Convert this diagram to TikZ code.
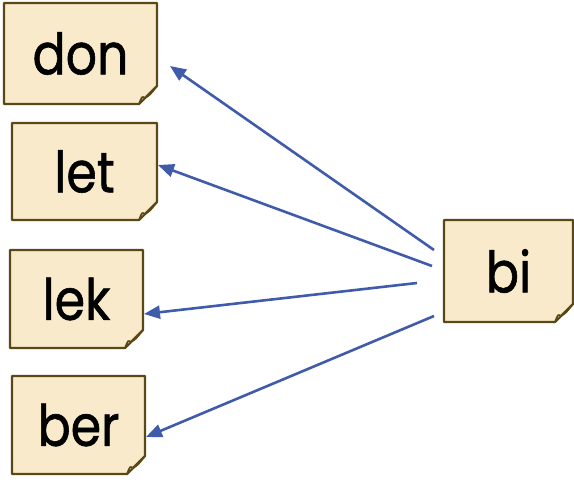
\documentclass[tikz,border=0pt]{standalone}
\usepackage{fontspec}
\newfontfamily\notefont{Poppins}[FakeStretch=0.86, BoldFont={Poppins}, BoldFeatures={FakeBold=1.0}]
\usetikzlibrary{arrows.meta}
\definecolor{notefill}{HTML}{F8EACA}
\definecolor{notedraw}{HTML}{5A4817}
\definecolor{foldfill}{HTML}{CDBFA0}
\definecolor{arrowblue}{HTML}{3F5BA9}
\tikzset{
  notebox/.style={inner sep=0pt, font=\notefont\bfseries\fontsize{57}{57}\selectfont},
  notepath/.style={fill=notefill, draw=notedraw, line width=2.2pt, line join=round},
  foldpath/.style={fill=foldfill, draw=notedraw, line width=1.6pt, line join=round},
  link/.style={draw=arrowblue, line width=2.6pt, -{Triangle[length=16pt,width=13pt]}}
}
\newcommand{\stickynote}[6]{%
  \path[notepath] (#2,#3) -- (#4,#3) -- (#4,#5-18) -- (#4-18,#5) -- (#2,#5) -- cycle;
  \path[foldpath] (#4,#5-18) -- (#4-18,#5) .. controls (#4-15,#5-8) .. (#4-12,#5-6) .. controls (#4-7,#5-9) .. cycle;
  \node[notebox] (#1) at ({(#2+#4)/2},{(#3+#5)/2}) {#6};
}
\begin{document}
\begin{tikzpicture}[x=1pt,y=-1pt]
\useasboundingbox (0,0) rectangle (574,480);
\stickynote{don}{4}{3}{157}{104}{don}
\stickynote{let}{12}{123}{157}{220}{let}
\stickynote{lek}{10}{250}{143}{348}{lek}
\stickynote{ber}{12}{376}{145}{474}{ber}
\stickynote{bi}{444}{220}{573}{322}{bi}
\coordinate (s1) at (434,250);
\coordinate (s2) at (432,266);
\coordinate (s3) at (417,283);
\coordinate (s4) at (434,316);
\coordinate (t1) at (170,66);
\coordinate (t2) at (158,165);
\coordinate (t3) at (144,314);
\coordinate (t4) at (146,437);
\draw[link] (s1) -- (t1);
\draw[link] (s2) -- (t2);
\draw[link] (s3) -- (t3);
\draw[link] (s4) -- (t4);
\end{tikzpicture}
\end{document}
